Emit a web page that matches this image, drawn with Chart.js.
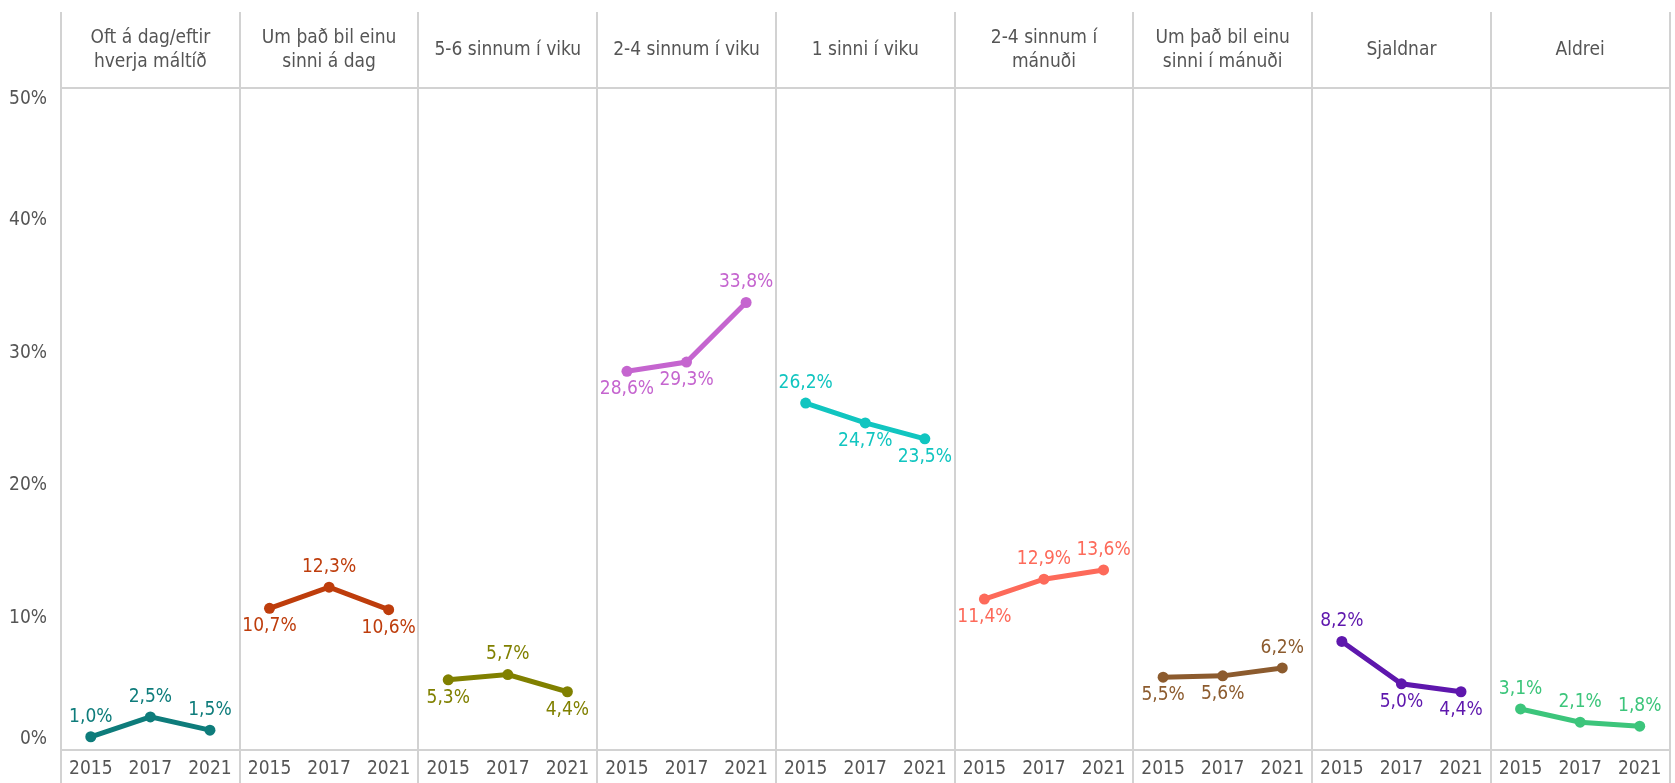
<!DOCTYPE html>
<html><head><meta charset="utf-8">
<script src="https://cdn.jsdelivr.net/npm/chart.js@4.4.1/dist/chart.umd.min.js"></script>
<style>html,body{margin:0;padding:0;background:#fff;overflow:hidden}</style>
</head><body>
<canvas id="c" width="1675" height="783"></canvas>
<script>
const panelTitles = [
  ["Oft á dag/eftir", "hverja máltíð"],
  ["Um það bil einu", "sinni á dag"],
  ["5-6 sinnum í viku"],
  ["2-4 sinnum í viku"],
  ["1 sinni í viku"],
  ["2-4 sinnum í", "mánuði"],
  ["Um það bil einu", "sinni í mánuði"],
  ["Sjaldnar"],
  ["Aldrei"]
];
const years = ["2015", "2017", "2021"];
const oftADag      = [1.0, 2.5, 1.5];
const einuSinniDag = [10.7, 12.3, 10.6];
const fimmSexViku  = [5.3, 5.7, 4.4];
const tveirFjViku  = [28.6, 29.3, 33.8];
const einuSinniViku = [26.2, 24.7, 23.5];
const tveirFjMan   = [11.4, 12.9, 13.6];
const einuSinniMan = [5.5, 5.6, 6.2];
const sjaldnar     = [8.2, 5.0, 4.4];
const aldrei       = [3.1, 2.1, 1.8];
const yTicks = [0, 10, 20, 30, 40, 50];

const series = [oftADag, einuSinniDag, fimmSexViku, tveirFjViku, einuSinniViku, tveirFjMan, einuSinniMan, sjaldnar, aldrei];
const colors = ["#0e7c7b", "#be3d0c", "#808000", "#c565cf", "#11c5c0", "#fd6a5a", "#8c5b2e", "#5e17ad", "#3cc57b"];
// label placement: 1 = above the point, -1 = below
const labelSide = [
  [1, 1, 1], [-1, 1, -1], [-1, 1, -1], [-1, -1, 1], [1, -1, -1],
  [-1, 1, 1], [-1, -1, 1], [1, -1, -1], [1, 1, 1]
];

const FONT = "'DejaVu Sans Condensed', 'DejaVu Sans', sans-serif";
const GRID = "#d2d2d2";
const TXT = "#555555";

const labels = [];
panelTitles.forEach(() => years.forEach(y => labels.push(y)));

const datasets = series.map((vals, i) => {
  const data = labels.map(() => null);
  vals.forEach((v, j) => { data[i * 3 + j] = v; });
  return {
    data, borderColor: colors[i], backgroundColor: colors[i],
    pointBackgroundColor: colors[i], pointBorderWidth: 0,
    pointRadius: 5.5, borderWidth: 5, spanGaps: false, tension: 0
  };
});

const fmt = v => v.toFixed(1).replace('.', ',') + '%';

const headerPlugin = {
  id: 'header',
  beforeDraw(chart) {
    // keep the end tick labels of the value axis inside the plot, as in the original
    const y = chart.scales.y;
    const items = y.getLabelItems(chart.chartArea);
    if (items.length) {
      items[0].options.translation[1] -= 11;
      items[items.length - 1].options.translation[1] += 11;
    }
  },
  afterDraw(chart) {
    const ctx = chart.ctx, ca = chart.chartArea;
    const w = (ca.right - ca.left) / panelTitles.length;
    ctx.save();
    ctx.strokeStyle = GRID; ctx.lineWidth = 2;
    for (let i = 0; i <= panelTitles.length; i++) {
      const x = Math.round(ca.left + i * w);
      ctx.beginPath(); ctx.moveTo(x, 12); ctx.lineTo(x, ca.top); ctx.stroke();
    }
    ctx.fillStyle = TXT; ctx.font = "19px " + FONT;
    ctx.textAlign = 'center'; ctx.textBaseline = 'middle';
    panelTitles.forEach((t, i) => {
      const cx = ca.left + (i + 0.5) * w;
      const cy = 50;
      const lh = 24;
      t.forEach((line, k) => {
        ctx.fillText(line, cx, cy + (k - (t.length - 1) / 2) * lh);
      });
    });
    ctx.restore();
  }
};

const valueLabelPlugin = {
  id: 'valueLabels',
  afterDatasetsDraw(chart) {
    const ctx = chart.ctx, ca = chart.chartArea;
    const w = (ca.right - ca.left) / panelTitles.length;
    ctx.save();
    ctx.font = "19px " + FONT;
    ctx.textBaseline = 'middle';
    ctx.textAlign = 'center';
    chart.data.datasets.forEach((ds, i) => {
      const meta = chart.getDatasetMeta(i);
      const pl = ca.left + i * w, pr = pl + w;
      series[i].forEach((v, j) => {
        const pt = meta.data[i * 3 + j];
        const txt = fmt(v);
        const tw = ctx.measureText(txt).width;
        let x = pt.x;
        x = Math.max(pl + 2 + tw / 2, Math.min(pr - 2 - tw / 2, x));
        const y = pt.y + (labelSide[i][j] > 0 ? -20 : 18);
        ctx.fillStyle = colors[i];
        ctx.fillText(txt, x, y);
      });
    });
    ctx.restore();
  }
};

new Chart(document.getElementById('c'), {
  type: 'line',
  data: { labels, datasets },
  plugins: [headerPlugin, valueLabelPlugin],
  options: {
    responsive: false, animation: false,
    layout: { padding: { top: 88, right: 3, left: 0, bottom: 0 } },
    plugins: { legend: { display: false }, tooltip: { enabled: false } },
    scales: {
      x: {
        type: 'category', offset: true,
        afterFit: s => { s.height = 33; },
        grid: {
          offset: true, lineWidth: 2, tickLength: 40,
          color: c => (c.index === undefined || c.index % 3 === 0) ? GRID : 'rgba(0,0,0,0)'
        },
        border: { color: GRID, width: 2 },
        ticks: { autoSkip: false, maxRotation: 0, padding: -32, color: TXT, font: { family: FONT, size: 19 } }
      },
      y: {
        min: 0, max: 50,
        afterFit: s => { s.width = 61; },
        afterBuildTicks: s => { s.ticks = yTicks.map(v => ({ value: v })); },
        grid: {
          drawTicks: false, lineWidth: 2,
          color: c => (c.tick && c.tick.value === 50) ? GRID : 'rgba(0,0,0,0)'
        },
        border: { color: GRID, width: 2 },
        ticks: { padding: 14, color: TXT, font: { family: FONT, size: 19 }, callback: v => v + '%' }
      }
    }
  }
});
</script>
</body></html>
